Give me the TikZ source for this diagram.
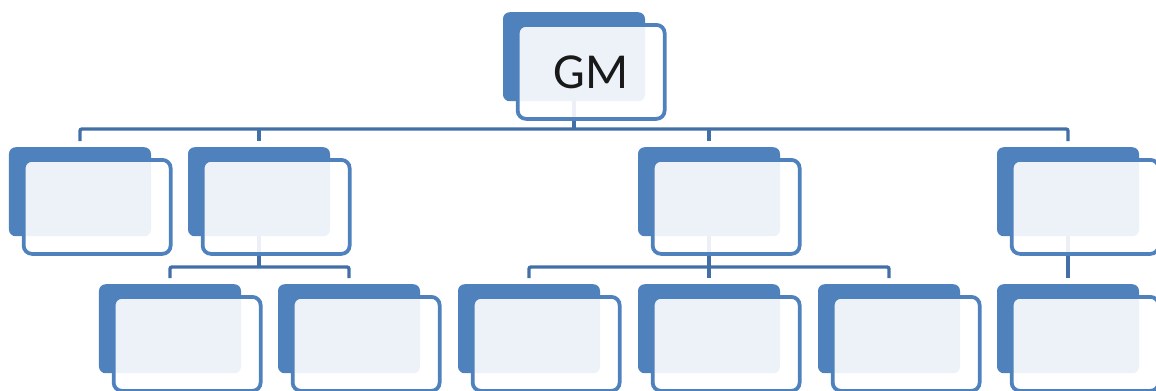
\documentclass[tikz,border=0pt]{standalone}
\usepackage{fontspec}
\setmainfont{Carlito}
\usepackage{xcolor}
\usepackage{tikz}
\usetikzlibrary{calc}
\usetikzlibrary{backgrounds}
\definecolor{boxblue}{RGB}{79,129,189}
\definecolor{linkblue}{RGB}{66,112,166}

\begin{document}
\begin{tikzpicture}[x=0.03cm,y=-0.03cm,
  back/.style={fill=boxblue,rounded corners=0.2cm,minimum width=4.26cm,minimum height=2.67cm,inner sep=0pt,anchor=north},
  front/.style={draw=boxblue,line width=3.2pt,fill=white,fill opacity=0.9,text opacity=1,rounded corners=0.25cm,minimum width=4.41cm,minimum height=2.82cm,inner sep=0pt,anchor=north west},
  link/.style={draw=linkblue,line width=2.9pt,rounded corners=0.06cm}]
\useasboundingbox (0,0) rectangle (1156,390);
%% top box
\node[back] (gm) at (574,12) {};
\node[front] (gmf) at ([shift={(13,11)}]gm.north west) {\fontsize{43}{48}\selectfont\color{black!90}GM};
%% second row and third row
\foreach \n/\x/\y in {a1/80/147, a2/259/147, a3/709/147, a4/1068/147,
                      b1/170/284, b2/349/284, b3/529/284, b4/709/284, b5/889/284, b6/1068/284}
{
  \node[back] (\n) at (\x,\y) {};
  \node[front] (\n f) at ([shift={(13,11)}]\n.north west) {};
}
\coordinate (bus) at (574,129);
\coordinate (busb) at (259,267);
\coordinate (busc) at (709,267);
\begin{pgfonlayer}{background}
\draw[link] (gm.south) -- (bus);
\draw[link,shorten <=0.18cm,shorten >=0.18cm] (a1.north) -- (a1.north |- bus) -- (a4.north |- bus) -- (a4.north);
\draw[link,shorten >=0.18cm] (a2.north |- bus) -- (a2.north);
\draw[link,shorten >=0.18cm] (a3.north |- bus) -- (a3.north);
%% under a2
\draw[link] (a2.south) -- (busb);
\draw[link,shorten <=0.18cm,shorten >=0.18cm] (b1.north) -- (b1.north |- busb) -- (b2.north |- busb) -- (b2.north);
%% under a3
\draw[link] (a3.south) -- (busc);
\draw[link,shorten <=0.18cm,shorten >=0.18cm] (b3.north) -- (b3.north |- busc) -- (b5.north |- busc) -- (b5.north);
\draw[link,shorten >=0.18cm] (busc) -- (b4.north);
%% under a4
\draw[link,shorten >=0.18cm] (a4.south) -- (b6.north);
\end{pgfonlayer}
\end{tikzpicture}
\end{document}
